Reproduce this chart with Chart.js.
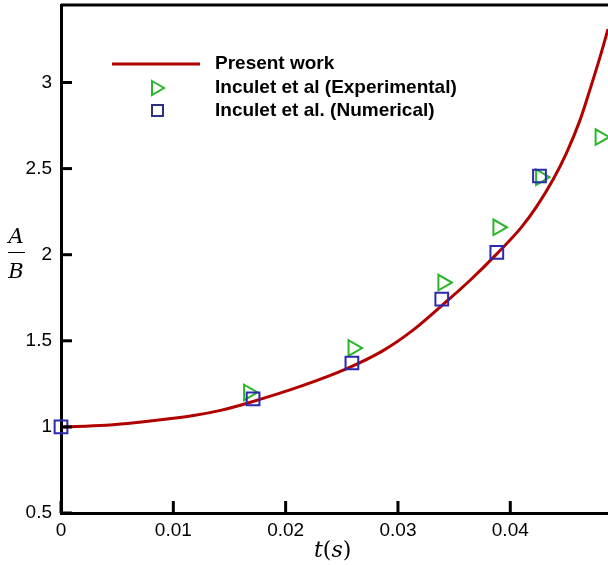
<!DOCTYPE html>
<html>
<head>
<meta charset="utf-8">
<script src="https://cdn.jsdelivr.net/npm/chart.js@4/dist/chart.umd.min.js"></script>
<style>
  body { margin: 0; background: #fff; }
</style>
</head>
<body>
<canvas id="chart" width="608" height="565"></canvas>
<script>
// present work curve
var curveTime = [0, 0.004, 0.0059, 0.0085, 0.0118, 0.0142, 0.0168, 0.0213, 0.0255, 0.0286, 0.0314, 0.034, 0.0364, 0.0388, 0.041, 0.0424, 0.0438, 0.045, 0.0462, 0.0471, 0.048, 0.0487];
var curveRatio = [1.0, 1.01, 1.02, 1.038, 1.066, 1.096, 1.142, 1.235, 1.34, 1.44, 1.565, 1.71, 1.85, 2.005, 2.16, 2.285, 2.435, 2.59, 2.78, 2.96, 3.15, 3.31];

// Inculet et al (Experimental)
var expTime = [0.0167, 0.026, 0.034, 0.0389, 0.0427, 0.048];
var expRatio = [1.2, 1.458, 1.838, 2.159, 2.45, 2.683];

// Inculet et al. (Numerical)
var numTime = [0, 0.0171, 0.0259, 0.0339, 0.0388, 0.0426];
var numRatio = [1.0, 1.163, 1.371, 1.742, 2.014, 2.457];

var xTickLabels = ['0', '0.01', '0.02', '0.03', '0.04'];
var yTickLabels = ['0.5', '1', '1.5', '2', '2.5', '3'];

var seriesNames = ['Present work', 'Inculet et al (Experimental)', 'Inculet et al. (Numerical)'];

var red = '#b00000';
var green = '#2bb52b';
var blue = '#2a2ab0';

function toPoints(xs, ys){
    var out = [];
    for(var i = 0; i < xs.length; i++){
        out.push({x: xs[i], y: ys[i]});
    }
    return out;
}

function xLabel(value){
    var k = Math.round(value / 0.002);
    if(k % 5 !== 0) return null;
    return xTickLabels[k / 5];
}

function yLabel(value){
    var k = Math.round(value * 10);
    if(k % 5 !== 0) return null;
    return yTickLabels[(k - 5) / 5];
}

var framePlugin = {
    id: 'frame',
    afterDraw: function(chart){
        var ctx = chart.ctx;
        var area = chart.chartArea;
        var xs = chart.scales.x;
        var ys = chart.scales.y;
        ctx.save();
        ctx.strokeStyle = '#000';
        ctx.lineCap = 'butt';

        // top border
        ctx.lineWidth = 3;
        ctx.beginPath();
        ctx.moveTo(area.left, area.top);
        ctx.lineTo(area.right, area.top);
        ctx.stroke();

        // inward ticks on x
        xs.ticks.forEach(function(t){
            var px = xs.getPixelForValue(t.value);
            var major = xLabel(t.value) !== null;
            ctx.lineWidth = major ? 3 : 1.5;
            ctx.beginPath();
            ctx.moveTo(px, area.bottom);
            ctx.lineTo(px, area.bottom - (major ? 12 : 6));
            ctx.stroke();
        });

        // inward ticks on y
        ys.ticks.forEach(function(t){
            var py = ys.getPixelForValue(t.value);
            var major = yLabel(t.value) !== null;
            ctx.lineWidth = major ? 3 : 1.5;
            ctx.beginPath();
            ctx.moveTo(area.left, py);
            ctx.lineTo(area.left + (major ? 11 : 6), py);
            ctx.stroke();
        });

        // legend
        ctx.strokeStyle = red;
        ctx.lineWidth = 3;
        ctx.beginPath();
        ctx.moveTo(112, 64);
        ctx.lineTo(200, 64);
        ctx.stroke();

        ctx.strokeStyle = green;
        ctx.lineWidth = 2;
        ctx.beginPath();
        ctx.moveTo(152, 81);
        ctx.lineTo(164, 88);
        ctx.lineTo(152, 95);
        ctx.closePath();
        ctx.stroke();

        ctx.strokeStyle = '#303080';
        ctx.strokeRect(152, 105, 11, 11);

        ctx.fillStyle = '#000';
        ctx.font = 'bold 19px "Liberation Sans", Arial, sans-serif';
        ctx.textAlign = 'left';
        ctx.textBaseline = 'middle';
        ctx.fillText(seriesNames[0], 215, 64);
        ctx.fillText(seriesNames[1], 215, 88);
        ctx.fillText(seriesNames[2], 215, 111);

        // axis titles
        ctx.textBaseline = 'alphabetic';
        var it = 'italic 22px "DejaVu Serif", "Liberation Serif", serif';
        var up = '22px "DejaVu Serif", "Liberation Serif", serif';
        var x0 = 314, by = 557;
        var parts = [['t', it], ['(', up], ['s', it], [')', up]];
        parts.forEach(function(p){
            ctx.font = p[1];
            ctx.fillText(p[0], x0, by);
            x0 += ctx.measureText(p[0]).width;
        });

        ctx.font = 'italic 21px "DejaVu Serif", "Liberation Serif", serif';
        ctx.textAlign = 'center';
        ctx.fillText('A', 16, 243);
        ctx.fillText('B', 16, 278);
        ctx.lineWidth = 1;
        ctx.strokeStyle = '#000';
        ctx.beginPath();
        ctx.moveTo(8, 252.5);
        ctx.lineTo(25, 252.5);
        ctx.stroke();
        ctx.restore();
    }
};

var ctx = document.getElementById('chart').getContext('2d');
var chart = new Chart(ctx, {
    type: 'scatter',
    data: {
        datasets: [{
            label: seriesNames[0],
            data: toPoints(curveTime, curveRatio),
            showLine: true,
            borderColor: red,
            borderWidth: 3,
            pointRadius: 0,
            cubicInterpolationMode: 'monotone',
            order: 3
        }, {
            label: seriesNames[1],
            data: toPoints(expTime, expRatio),
            pointStyle: 'triangle',
            rotation: 90,
            pointRadius: 9,
            borderColor: green,
            backgroundColor: 'rgba(0,0,0,0)',
            borderWidth: 2,
            clip: false,
            order: 2
        }, {
            label: seriesNames[2],
            data: toPoints(numTime, numRatio),
            pointStyle: 'rect',
            pointRadius: 9,
            borderColor: blue,
            backgroundColor: 'rgba(0,0,0,0)',
            borderWidth: 2,
            clip: false,
            order: 1
        }]
    },
    options: {
        responsive: false,
        animation: false,
        layout: { autoPadding: false, padding: { top: 5, right: 0, left: 0, bottom: 0 } },
        plugins: {
            legend: { display: false },
            tooltip: { enabled: false }
        },
        scales: {
            x: {
                type: 'linear',
                min: 0,
                max: 0.0487,
                grid: { display: false, drawTicks: false },
                border: { display: true, color: '#000', width: 3 },
                ticks: {
                    stepSize: 0.002,
                    autoSkip: false,
                    includeBounds: false,
                    maxRotation: 0,
                    padding: 6,
                    color: '#000',
                    font: { family: '"Liberation Sans", Arial, sans-serif', size: 19 },
                    callback: xLabel
                },
                afterFit: function(scale){
                    scale.height = 52;
                    scale.paddingLeft = 0;
                    scale.paddingRight = 0;
                }
            },
            y: {
                type: 'linear',
                min: 0.5,
                max: 3.45,
                grid: { display: false, drawTicks: false },
                border: { display: true, color: '#000', width: 3 },
                ticks: {
                    stepSize: 0.1,
                    autoSkip: false,
                    includeBounds: false,
                    padding: 9,
                    color: '#000',
                    font: { family: '"Liberation Sans", Arial, sans-serif', size: 19 },
                    callback: yLabel
                },
                afterFit: function(scale){
                    scale.width = 61;
                    scale.paddingTop = 0;
                    scale.paddingBottom = 0;
                }
            }
        }
    },
    plugins: [framePlugin]
});
</script>
</body>
</html>
